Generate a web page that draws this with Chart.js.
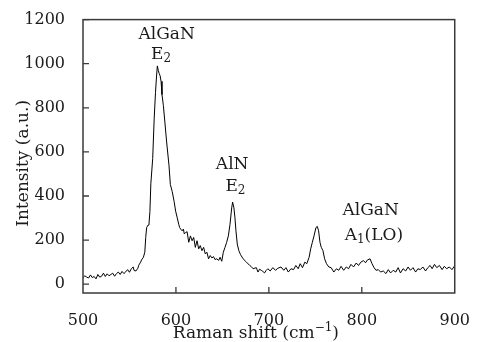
<!DOCTYPE html>
<html>
<head>
<meta charset="utf-8">
<script src="https://cdn.jsdelivr.net/npm/chart.js@4"></script>
<style>
  body { margin: 0; background: #fff; }
  #chartContainer { width: 480px; height: 342px; }
</style>
</head>
<body>
<div id="chartContainer"><canvas id="ramanChart" width="480" height="342"></canvas></div>
<script>
// Espectro Raman
const ramanShift = [
  500, 502, 504, 506, 508, 510, 512, 514, 516, 518, 520, 522, 524, 526, 528, 530, 532, 534, 536, 538,
  540, 542, 544, 546, 548, 550, 552, 554, 555, 557, 559, 560, 562, 563, 565, 566.5, 567.5, 568.5, 570, 571,
  572, 573, 575, 576.6, 578, 579, 580, 581, 582, 583, 584, 585, 586.5, 588, 590, 592.5, 594, 596, 598, 599.7,
  601.4, 603, 604, 605, 606.7, 608, 609, 610.3, 612, 613.8, 615.6, 617.4, 619.1, 620.9, 622.7, 624.5, 626.2, 628, 629.8, 631.6,
  633.3, 635.1, 636.9, 638.7, 640.4, 642, 644, 646, 647.5, 649.3, 651, 652.8, 654.6, 656.4, 658.2, 660, 661, 662.4, 663.5, 664.6,
  666, 667.7, 669.5, 672.3, 675.9, 679.4, 681, 683, 686.5, 688.3, 690, 691.8, 693.5, 695.4, 697, 698.9, 701.4, 704.3, 707.1, 709.6,
  713.1, 716, 718.4, 720.9, 723.8, 726.6, 729, 731.6, 733.7, 736.2, 738.7, 740.8, 743.3, 745, 746.8, 748.6, 750.7, 752.1, 753.5, 755,
  756.4, 758.2, 760, 762, 764.5, 767, 769.9, 772.7, 775.2, 777.7, 780.5, 783.3, 785.8, 788.3, 791.1, 794, 796.5, 799, 801.8, 804,
  806.1, 808.9, 811, 813.2, 815.3, 817.8, 820.3, 823.1, 826, 828.5, 831, 833.8, 836.6, 839.1, 841.6, 844.4, 847.3, 849.8, 852.3, 855.1,
  857.9, 860.4, 862.9, 865.7, 868.6, 871.1, 873.5, 875.7, 878.2, 880.7, 883.5, 886.4, 888.8, 891.3, 894.2, 897, 899.5, 900
];
const intensidad = [
  30, 38, 32, 28, 42, 30, 35, 24, 44, 32, 36, 50, 35, 47, 38, 44, 50, 36, 48, 55,
  44, 58, 48, 56, 66, 54, 70, 78, 62, 60, 72, 86, 100, 110, 122, 145, 212, 257, 268, 272,
  330, 455, 570, 750, 870, 935, 990, 970, 955, 945, 920, 860, 810, 740, 645, 540, 452, 420, 376, 331,
  301, 272, 257, 250, 242, 250, 228, 234, 238, 190, 219, 197, 212, 167, 197, 160, 175, 152, 167, 137,
  145, 115, 130, 119, 125, 112, 115, 108, 122, 104, 145, 167, 190, 219, 272, 346, 372, 346, 301, 242,
  182, 152, 134, 115, 100, 85, 80, 70, 75, 55, 68, 63, 58, 51, 62, 70, 60, 75, 63, 72,
  78, 63, 75, 55, 70, 66, 85, 70, 93, 75, 100, 93, 122, 160, 190, 219, 257, 262, 242, 190,
  167, 152, 115, 93, 78, 75, 55, 70, 63, 81, 63, 78, 70, 90, 78, 96, 85, 100, 107, 97,
  110, 115, 93, 75, 63, 66, 55, 60, 48, 66, 51, 63, 55, 75, 51, 70, 60, 78, 63, 75,
  55, 70, 66, 78, 60, 75, 85, 70, 90, 75, 85, 66, 81, 70, 78, 66, 81, 75
];

// Ejes
const xTicks = [500, 600, 700, 800, 900];
const yTicks = [0, 200, 400, 600, 800, 1000, 1200];

// Etiquetas de los picos ('_' = subíndice del carácter siguiente)
const etiquetas = ['AlGaN', 'E_2', 'AlN', 'E_2', 'AlGaN', 'A_1(LO)'];
const etiquetaX = [590, 584, 660.5, 664, 809.5, 813];
const etiquetaY = [1138, 1049, 551, 452, 340, 228];

const FUENTE = "'DejaVu Serif', serif";
const COLOR_TEXTO = '#1a1a1a';

// Dibuja texto con subíndices/superíndices centrado en (cx, cy)
function dibujarTexto(ctx, partes, cx, cy, size) {
    const small = Math.round(size * 0.68);
    let total = 0;
    partes.forEach(p => {
        ctx.font = `${p.tipo === 'n' ? size : small}px ${FUENTE}`;
        p.w = ctx.measureText(p.t).width;
        total += p.w;
    });
    let x = cx - total / 2;
    ctx.textBaseline = 'alphabetic';
    ctx.textAlign = 'left';
    const base = cy + size * 0.36;
    partes.forEach(p => {
        ctx.font = `${p.tipo === 'n' ? size : small}px ${FUENTE}`;
        let y = base;
        if (p.tipo === 'sub') y = base + size * 0.2;
        if (p.tipo === 'sup') y = base - size * 0.42;
        ctx.fillText(p.t, x, y);
        x += p.w;
    });
}

function partirEtiqueta(txt) {
    const partes = [];
    let buf = '';
    for (let i = 0; i < txt.length; i++) {
        if (txt[i] === '_') {
            if (buf) partes.push({ t: buf, tipo: 'n' });
            buf = '';
            partes.push({ t: txt[i + 1], tipo: 'sub' });
            i++;
        } else {
            buf += txt[i];
        }
    }
    if (buf) partes.push({ t: buf, tipo: 'n' });
    return partes;
}

const marcoPlugin = {
    id: 'marco',
    afterDatasetsDraw(chart) {
        const { ctx, chartArea, scales } = chart;
        const { left, right, top, bottom } = chartArea;
        ctx.save();

        // Marco del gráfico
        ctx.strokeStyle = '#3a3a3a';
        ctx.lineWidth = 1.5;
        ctx.strokeRect(left, top, right - left, bottom - top);

        // Marcas hacia dentro
        ctx.lineWidth = 1.3;
        ctx.beginPath();
        yTicks.forEach(v => {
            const y = scales.y.getPixelForValue(v);
            ctx.moveTo(left, y);
            ctx.lineTo(left + 6, y);
        });
        xTicks.slice(1, -1).forEach(v => {
            const x = scales.x.getPixelForValue(v);
            ctx.moveTo(x, bottom);
            ctx.lineTo(x, bottom - 6);
        });
        ctx.stroke();

        // Etiquetas de los picos
        ctx.fillStyle = COLOR_TEXTO;
        etiquetas.forEach((txt, i) => {
            const cx = scales.x.getPixelForValue(etiquetaX[i]);
            const cy = scales.y.getPixelForValue(etiquetaY[i]);
            dibujarTexto(ctx, partirEtiqueta(txt), cx, cy, 17);
        });

        // Título eje X
        dibujarTexto(ctx, [
            { t: 'Raman shift (cm', tipo: 'n' },
            { t: '\u22121', tipo: 'sup' },
            { t: ')', tipo: 'n' }
        ], (left + right) / 2 - 13, 332, 17);

        // Título eje Y
        ctx.translate(22, (top + bottom) / 2 + 7);
        ctx.rotate(-Math.PI / 2);
        dibujarTexto(ctx, [{ t: 'Intensity (a.u.)', tipo: 'n' }], 0, 0, 17);
        ctx.restore();
    }
};

function crearGrafico() {
    const ctx = document.getElementById('ramanChart').getContext('2d');
    Chart.defaults.font.family = FUENTE;
    Chart.defaults.color = COLOR_TEXTO;

    return new Chart(ctx, {
        type: 'line',
        data: {
            datasets: [{
                label: 'Raman',
                data: ramanShift.map((x, i) => ({ x: x, y: intensidad[i] })),
                borderColor: '#000',
                borderWidth: 1,
                pointRadius: 0,
                tension: 0,
                fill: false
            }]
        },
        options: {
            responsive: false,
            animation: false,
            layout: { padding: { left: 0, right: 21, top: 16, bottom: 0 } },
            plugins: {
                legend: { display: false },
                tooltip: { enabled: false }
            },
            scales: {
                x: {
                    type: 'linear',
                    min: 500,
                    max: 900,
                    afterBuildTicks: scale => { scale.ticks = xTicks.map(v => ({ value: v })); },
                    afterFit: scale => { scale.height = 49; },
                    grid: { display: false },
                    border: { display: false },
                    ticks: { font: { size: 16 }, padding: 10, maxRotation: 0, callback: v => String(v) }
                },
                y: {
                    min: -40,
                    max: 1200,
                    afterBuildTicks: scale => { scale.ticks = yTicks.map(v => ({ value: v })); },
                    afterFit: scale => { scale.width = 83; },
                    grid: { display: false },
                    border: { display: false },
                    ticks: { font: { size: 16 }, padding: 10, callback: v => String(v) }
                }
            }
        },
        plugins: [marcoPlugin]
    });
}

crearGrafico();
</script>
</body>
</html>
